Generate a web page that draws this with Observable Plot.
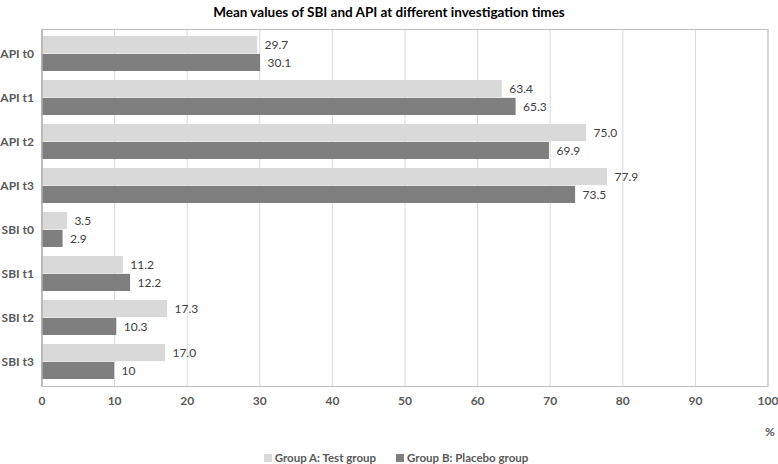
<!DOCTYPE html>
<html>
<head>
<meta charset="utf-8">
<script src="https://cdn.jsdelivr.net/npm/d3@7"></script>
<script src="https://cdn.jsdelivr.net/npm/@observablehq/plot@0.6"></script>
<style>
  html, body { margin: 0; padding: 0; background: #fff; }
  body { width: 778px; height: 464px; position: relative; font-family: Lato, "Open Sans", sans-serif; }
  #title { position: absolute; top: 0; left: 0; width: 778px; height: 24px; line-height: 24px;
           text-align: center; font-weight: bold; font-size: 13.5px; color: #000; }
  #chart { position: absolute; top: 24px; left: 0; }
  #legend { position: absolute; top: 449px; left: 7px; width: 778px; height: 18px; line-height: 18px;
            text-align: center; font-size: 11.5px; font-weight: bold; color: #595959; }
  #legend span.item { display: inline-block; margin: 0 10px; }
  #legend span.swatch { display: inline-block; width: 8px; height: 8px; margin-right: 3px; vertical-align: 0px; }
  #chart svg g[aria-label^="x-axis"] text,
  #chart svg g[aria-label^="y-axis"] text { font-weight: bold; fill: #595959; }
</style>
</head>
<body>
<div id="title">Mean values of SBI and API at different investigation times</div>
<div id="chart"></div>
<div id="legend"></div>
<script>
// Indices and investigation times
const categories = ["API t0", "API t1", "API t2", "API t3", "SBI t0", "SBI t1", "SBI t2", "SBI t3"];
// Group A (test) and group B (placebo) mean values, in %
const testValues = [29.7, 63.4, 75.0, 77.9, 3.5, 11.2, 17.3, 17.0];
const placeboValues = [30.1, 65.3, 69.9, 73.5, 2.9, 12.2, 10.3, 10];
// Printed value labels
const testLabels = ["29.7", "63.4", "75.0", "77.9", "3.5", "11.2", "17.3", "17.0"];
const placeboLabels = ["30.1", "65.3", "69.9", "73.5", "2.9", "12.2", "10.3", "10"];
const seriesNames = ["Group A: Test group", "Group B: Placebo group"];
const xTicks = [0, 10, 20, 30, 40, 50, 60, 70, 80, 90, 100];

const colors = ["#d9d9d9", "#7f7f7f"];

const rows = categories.map((cat, i) => ({
  cat,
  a: testValues[i], b: placeboValues[i],
  aText: testLabels[i], bText: placeboLabels[i]
}));

const width = 778, height = 414;
const marginTop = 5, marginBottom = 52, marginLeft = 41.5, marginRight = 10.5;
const paddingInner = 0.2, paddingOuter = 0.1;
const plotH = height - marginTop - marginBottom;
const step = plotH / (categories.length - paddingInner + 2 * paddingOuter);
const half = step * (1 - paddingInner) / 2;

const chart = Plot.plot({
  width, height, marginTop, marginBottom, marginLeft, marginRight,
  style: { fontFamily: "Lato, 'Open Sans', sans-serif", fontSize: "12px", color: "#595959", background: "#fff" },
  x: { domain: [0, 100], ticks: xTicks, tickSize: 0, tickPadding: 10, label: null },
  y: { domain: categories, paddingInner, paddingOuter, tickSize: 0, tickPadding: 8, label: null },
  marks: [
    Plot.ruleX(xTicks, { stroke: "#d9d9d9" }),
    Plot.barX(rows, { x: "a", y: "cat", fill: colors[0], insetBottom: half, insetTop: 0 }),
    Plot.barX(rows, { x: "b", y: "cat", fill: colors[1], insetTop: half, insetBottom: 0 }),
    Plot.text(rows, { x: "a", y: "cat", text: "aText", dx: 7, dy: -half / 2, textAnchor: "start", fill: "#404040", fontSize: 12 }),
    Plot.text(rows, { x: "b", y: "cat", text: "bText", dx: 7, dy: half / 2, textAnchor: "start", fill: "#404040", fontSize: 12 }),
    Plot.frame({ stroke: "#bfbfbf" }),
    Plot.ruleX([0], { stroke: "#a6a6a6" }),
    Plot.frame({ stroke: "#a6a6a6", insetTop: plotH }),
    Plot.text(["%"], { x: 100, frameAnchor: "bottom", dy: 49, dx: 2, fill: "#595959", fontWeight: "bold", fontSize: 12 })
  ]
});
document.getElementById("chart").appendChild(chart);

// Legend
const legend = d3.select("#legend");
seriesNames.forEach((name, i) => {
  const item = legend.append("span").attr("class", "item");
  item.append("span").attr("class", "swatch").style("background", colors[i]);
  item.append("span").text(name);
});
</script>
</body>
</html>
